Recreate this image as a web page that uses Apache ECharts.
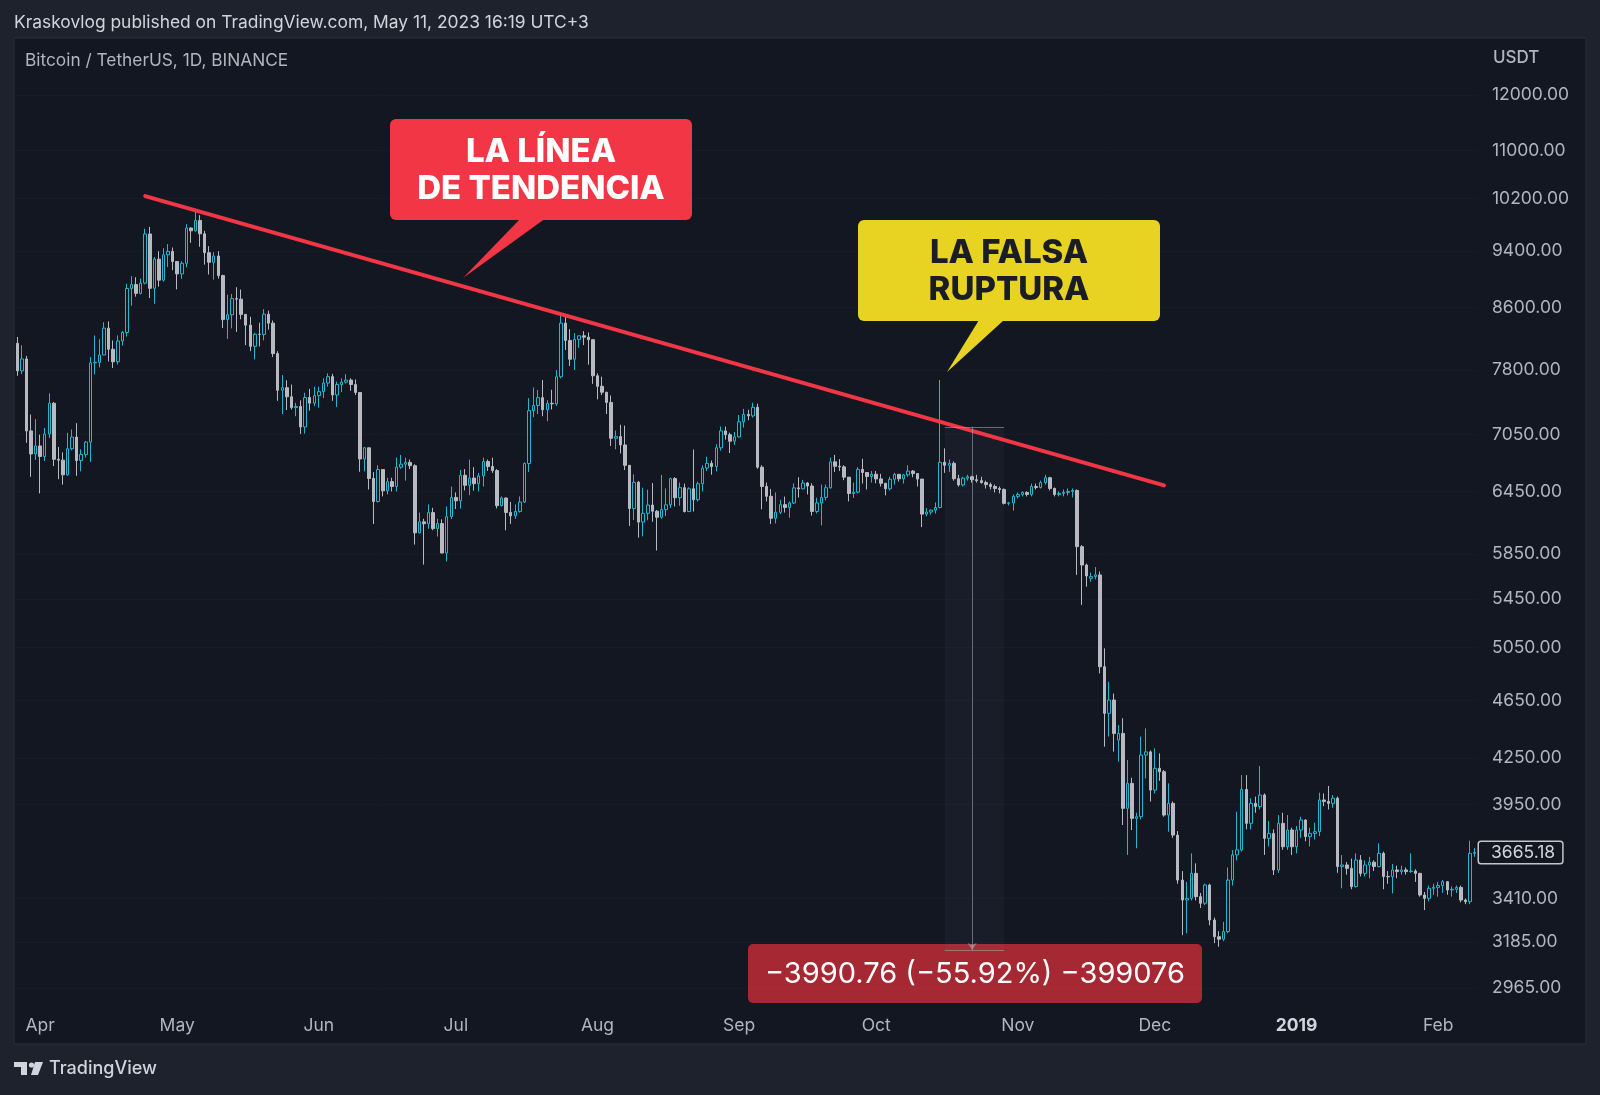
<!DOCTYPE html>
<html>
<head>
<meta charset="utf-8">
<title>BTCUSDT 1D</title>
<script src="https://cdn.jsdelivr.net/npm/echarts@6/dist/echarts.min.js"></script>
<style>
  html, body { margin: 0; padding: 0; background: #1e222d; }
  #chart { width: 1600px; height: 1095px; }
</style>
</head>
<body>
<div id="chart"></div>
<script>
// daily candles, each row [open, high, low, close]
const mar18 = [
  [8134, 8215, 7730, 7790], [7790, 8109, 7750, 7937], [7937, 7975, 6960, 7091],
  [7091, 7275, 6600, 6840], [6840, 7223, 6777, 6926]
]
const apr18 = [
  [6926, 7050, 6430, 6813], [6813, 7125, 6765, 7057], [7057, 7520, 7011, 7405], [7405, 7420, 6711, 6783],
  [6783, 6915, 6575, 6774], [6774, 6857, 6519, 6620], [6620, 7070, 6610, 6896], [6896, 7107, 6880, 7023],
  [7023, 7178, 6610, 6770], [6770, 6890, 6656, 6834], [6834, 6980, 6800, 6968], [6968, 7960, 6755, 7889],
  [7889, 8234, 7748, 7895], [7895, 8186, 7832, 7986], [7986, 8407, 7985, 8329], [8329, 8418, 7905, 8058],
  [8058, 8170, 7826, 7902], [7902, 8236, 7868, 8163], [8163, 8293, 8105, 8273], [8273, 8930, 8220, 8863],
  [8863, 9035, 8626, 8917], [8917, 9020, 8750, 8795], [8795, 8999, 8780, 8937], [8937, 9732, 8921, 9652],
  [9652, 9759, 8730, 8865], [8865, 9310, 8652, 9279], [9279, 9395, 8889, 8979], [8979, 9438, 8959, 9342],
  [9342, 9500, 9166, 9392], [9392, 9450, 9120, 9244]
]
const may18 = [
  [9244, 9246, 8850, 9067], [9067, 9249, 8997, 9219], [9219, 9800, 9160, 9743], [9743, 9750, 9520, 9700],
  [9700, 9990, 9690, 9859], [9859, 9940, 9460, 9654], [9654, 9700, 9200, 9373], [9373, 9470, 9058, 9234],
  [9234, 9380, 8987, 9325], [9325, 9395, 9000, 9043], [9043, 9056, 8330, 8441], [8441, 8777, 8190, 8505],
  [8505, 8787, 8325, 8723], [8723, 8880, 8280, 8716], [8716, 8848, 8445, 8510], [8510, 8510, 8110, 8368],
  [8368, 8478, 8034, 8095], [8095, 8269, 7931, 8250], [8250, 8400, 8093, 8247], [8247, 8580, 8171, 8513],
  [8513, 8560, 8310, 8394], [8394, 8429, 7960, 8004], [8004, 8034, 7433, 7557], [7557, 7738, 7280, 7587],
  [7587, 7676, 7327, 7480], [7480, 7625, 7333, 7355], [7355, 7410, 7256, 7368], [7368, 7438, 7058, 7135],
  [7135, 7527, 7061, 7472], [7472, 7573, 7320, 7406], [7406, 7599, 7372, 7494]
]
const jun18 = [
  [7494, 7600, 7353, 7541], [7541, 7700, 7465, 7643], [7643, 7760, 7600, 7720], [7720, 7754, 7433, 7501],
  [7501, 7660, 7361, 7625], [7625, 7700, 7535, 7654], [7654, 7750, 7636, 7678], [7678, 7700, 7551, 7625],
  [7625, 7686, 7500, 7531], [7531, 7531, 6652, 6786], [6786, 6916, 6655, 6906], [6906, 6907, 6470, 6582],
  [6582, 6648, 6130, 6349], [6349, 6720, 6340, 6675], [6675, 6675, 6400, 6456], [6456, 6590, 6420, 6550],
  [6550, 6590, 6450, 6500], [6500, 6800, 6451, 6700], [6700, 6830, 6682, 6731], [6731, 6800, 6560, 6750],
  [6750, 6780, 6680, 6715], [6715, 6730, 5935, 6045], [6045, 6240, 6040, 6150], [6150, 6180, 5752, 6132],
  [6132, 6320, 6084, 6240], [6240, 6287, 6070, 6085], [6085, 6180, 6010, 6134], [6134, 6174, 5855, 5857],
  [5857, 6300, 5780, 6200], [6200, 6500, 6177, 6390]
]
const jul18 = [
  [6390, 6440, 6275, 6356], [6356, 6670, 6280, 6615], [6615, 6680, 6460, 6512], [6512, 6780, 6412, 6586],
  [6586, 6700, 6458, 6529], [6529, 6640, 6450, 6609], [6609, 6800, 6500, 6759], [6759, 6780, 6660, 6707],
  [6707, 6800, 6640, 6664], [6664, 6679, 6280, 6308], [6308, 6400, 6300, 6384], [6384, 6388, 6070, 6241],
  [6241, 6345, 6130, 6208], [6208, 6320, 6180, 6251], [6251, 6400, 6240, 6344], [6344, 6750, 6336, 6738],
  [6738, 7465, 6650, 7320], [7320, 7590, 7245, 7379], [7379, 7560, 7280, 7470], [7470, 7680, 7256, 7330],
  [7330, 7440, 7200, 7404], [7404, 7563, 7333, 7398], [7398, 7800, 7375, 7718], [7718, 8488, 7700, 8395],
  [8395, 8485, 8050, 8170], [8170, 8315, 7850, 7933], [7933, 8264, 7801, 8183], [8183, 8230, 8075, 8230],
  [8230, 8290, 8110, 8212], [8212, 8273, 7866, 8180], [8180, 8180, 7633, 7730]
]
const aug18 = [
  [7730, 7760, 7450, 7604], [7604, 7720, 7500, 7534], [7534, 7535, 7280, 7415], [7415, 7496, 6926, 7010],
  [7010, 7095, 6890, 7028], [7028, 7160, 6845, 6937], [6937, 7150, 6670, 6719], [6719, 6720, 6111, 6280],
  [6280, 6625, 6168, 6543], [6543, 6557, 6000, 6148], [6148, 6488, 6012, 6233], [6233, 6468, 6165, 6314],
  [6314, 6536, 6151, 6253], [6253, 6265, 5880, 6195], [6195, 6618, 6180, 6269], [6269, 6480, 6205, 6316],
  [6316, 6590, 6285, 6581], [6581, 6596, 6300, 6387], [6387, 6540, 6307, 6488], [6488, 6530, 6241, 6250],
  [6250, 6492, 6245, 6477], [6477, 6888, 6250, 6367], [6367, 6550, 6350, 6528], [6528, 6720, 6450, 6690],
  [6690, 6810, 6660, 6740], [6740, 6770, 6621, 6706], [6706, 6944, 6656, 6906], [6906, 7140, 6875, 7091],
  [7091, 7140, 6995, 7049], [7049, 7072, 6850, 6978], [6978, 7080, 6938, 7025]
]
const sep18 = [
  [7025, 7270, 7018, 7193], [7193, 7340, 7128, 7277], [7277, 7330, 7211, 7260], [7260, 7410, 7240, 7358],
  [7358, 7400, 6682, 6700], [6700, 6720, 6272, 6500], [6500, 6540, 6350, 6401], [6401, 6475, 6130, 6185],
  [6185, 6440, 6135, 6243], [6243, 6367, 6225, 6318], [6318, 6398, 6240, 6290], [6290, 6350, 6190, 6334],
  [6334, 6532, 6324, 6486], [6486, 6595, 6389, 6476], [6476, 6568, 6471, 6536], [6536, 6545, 6420, 6505],
  [6505, 6533, 6210, 6251], [6251, 6387, 6232, 6335], [6335, 6520, 6117, 6390], [6390, 6520, 6360, 6487],
  [6487, 6800, 6478, 6756], [6756, 6830, 6650, 6709], [6709, 6785, 6660, 6703], [6703, 6720, 6565, 6596],
  [6596, 6596, 6350, 6429], [6429, 6540, 6385, 6443], [6443, 6700, 6430, 6676], [6676, 6788, 6531, 6644],
  [6644, 6644, 6470, 6602], [6602, 6660, 6540, 6626]
]
const oct18 = [
  [6626, 6660, 6533, 6578], [6578, 6630, 6500, 6533], [6533, 6536, 6410, 6477], [6477, 6600, 6460, 6574],
  [6574, 6640, 6520, 6625], [6625, 6630, 6550, 6579], [6579, 6630, 6530, 6619], [6619, 6720, 6600, 6659],
  [6659, 6670, 6595, 6633], [6633, 6633, 6500, 6576], [6576, 6576, 6100, 6225], [6225, 6285, 6205, 6245],
  [6245, 6270, 6220, 6264], [6264, 6340, 6230, 6290], [6290, 7680, 6282, 6751], [6751, 6900, 6640, 6720],
  [6720, 6780, 6650, 6740], [6740, 6760, 6560, 6580], [6580, 6620, 6500, 6516], [6516, 6600, 6500, 6585],
  [6585, 6620, 6560, 6600], [6600, 6610, 6540, 6570], [6570, 6620, 6540, 6560], [6560, 6600, 6530, 6540],
  [6540, 6560, 6480, 6520], [6520, 6540, 6470, 6500], [6500, 6520, 6440, 6480], [6480, 6500, 6430, 6470],
  [6470, 6480, 6320, 6331], [6331, 6345, 6310, 6335], [6335, 6420, 6260, 6400]
]
const nov18 = [
  [6400, 6440, 6380, 6420], [6420, 6450, 6400, 6440], [6440, 6450, 6400, 6420], [6420, 6530, 6400, 6500],
  [6500, 6530, 6470, 6490], [6490, 6560, 6480, 6540], [6540, 6620, 6520, 6590], [6590, 6600, 6460, 6480],
  [6480, 6490, 6400, 6420], [6420, 6450, 6400, 6430], [6430, 6470, 6400, 6440], [6440, 6480, 6410, 6450],
  [6450, 6480, 6390, 6460], [6460, 6470, 5660, 5916], [5916, 5930, 5400, 5748], [5748, 5760, 5556, 5650],
  [5630, 5680, 5600, 5645], [5645, 5730, 5620, 5660], [5660, 5690, 4851, 4902], [4902, 5045, 4325, 4557],
  [4557, 4788, 4394, 4653], [4653, 4700, 4292, 4416], [4370, 4474, 4225, 4416], [4416, 4522, 3826, 3927],
  [3927, 4236, 3651, 4084], [4084, 4120, 3796, 3866], [3866, 3900, 3689, 3876], [3876, 4394, 3860, 4269],
  [4269, 4451, 4116, 4290], [4290, 4300, 3969, 4041]
]
const dec18 = [
  [4041, 4314, 4020, 4181], [4181, 4280, 4100, 4159], [4159, 4170, 3876, 3886], [3886, 4084, 3786, 3958],
  [3958, 3970, 3750, 3766], [3766, 3790, 3490, 3510], [3510, 3560, 3220, 3402], [3402, 3500, 3230, 3411],
  [3411, 3660, 3400, 3547], [3547, 3603, 3400, 3420], [3420, 3440, 3360, 3385], [3385, 3490, 3375, 3483],
  [3483, 3490, 3270, 3297], [3297, 3310, 3180, 3212], [3212, 3240, 3162, 3200], [3200, 3288, 3190, 3238],
  [3238, 3580, 3230, 3510], [3510, 3679, 3480, 3651], [3651, 3907, 3620, 3680], [3680, 4137, 3670, 4045],
  [4045, 4137, 3800, 3836], [3836, 3990, 3800, 3958], [3958, 4000, 3900, 3938], [3938, 4196, 3920, 4010],
  [4010, 4020, 3651, 3747], [3747, 3850, 3700, 3776], [3776, 3800, 3538, 3566], [3566, 3886, 3550, 3836],
  [3836, 3900, 3680, 3698], [3698, 3886, 3680, 3796], [3796, 3810, 3650, 3698]
]
const jan19 = [
  [3698, 3820, 3660, 3796], [3796, 3876, 3750, 3856], [3856, 3860, 3730, 3757], [3757, 3810, 3700, 3776],
  [3776, 3840, 3740, 3786], [3786, 4025, 3760, 3979], [3979, 4020, 3940, 3970], [3970, 4067, 3920, 3958],
  [3958, 4010, 3930, 3990], [3990, 4000, 3550, 3585], [3585, 3650, 3465, 3594], [3594, 3610, 3540, 3575],
  [3575, 3630, 3460, 3474], [3474, 3660, 3470, 3622], [3622, 3650, 3530, 3547], [3547, 3620, 3530, 3594],
  [3594, 3640, 3520, 3610], [3610, 3620, 3560, 3585], [3585, 3718, 3580, 3660], [3660, 3670, 3460, 3530],
  [3530, 3560, 3490, 3528], [3528, 3600, 3438, 3566], [3566, 3590, 3520, 3557], [3557, 3590, 3540, 3566],
  [3566, 3580, 3540, 3557], [3557, 3660, 3550, 3560], [3560, 3570, 3500, 3547], [3547, 3550, 3420, 3429],
  [3429, 3445, 3349, 3411], [3411, 3480, 3395, 3465], [3465, 3490, 3430, 3470]
]
const feb19 = [
  [3470, 3500, 3420, 3480], [3480, 3510, 3440, 3501], [3501, 3505, 3430, 3456], [3456, 3475, 3420, 3460],
  [3460, 3480, 3440, 3470], [3470, 3480, 3390, 3402], [3402, 3410, 3380, 3393], [3393, 3733, 3380, 3660],
  [3660, 3690, 3640, 3665.18]
]

// price scale labels (right side)
const priceTicks = [12000, 11000, 10200, 9400, 8600, 7800, 7050, 6450, 5850, 5450, 5050, 4650, 4250, 3950, 3410, 3185, 2965]
const lastPrice = 3665.18
const monthNames = ['Jan', 'Feb', 'Mar', 'Apr', 'May', 'Jun', 'Jul', 'Aug', 'Sep', 'Oct', 'Nov', 'Dec']

// drawings
const trendStart = ['2018-04-24', 10241]
const trendEnd = ['2018-12-03', 6512]
const measureFrom = '2018-10-16'
const measureMid = '2018-10-22'
const measureTo = '2018-10-29'
const measureTop = 7136.5
const measureBottom = 3145.7

const rows = [].concat(mar18, apr18, may18, jun18, jul18, aug18, sep18, oct18, nov18, dec18, jan19, feb19)
const dates = []
const start = Date.UTC(2018, 2, 27)
for (let i = 0; i < rows.length; i++) {
  dates.push(new Date(start + i * 86400000).toISOString().slice(0, 10))
}
// echarts wants [open, close, low, high]
const candles = rows.map(r => [r[0], r[3], r[2], r[1]])

const FONT = 'Inter, "Noto Sans", sans-serif'
const teal = '#1fb8cf'
const grey = '#b9bac1'

const tickLines = priceTicks.map(v => ({
  yAxis: v,
  lineStyle: { color: 'rgba(255,255,255,0.02)', width: 1, type: 'solid' },
  label: {
    show: true, position: 'end', distance: 15,
    formatter: v.toFixed(2), color: '#b2b5be', fontSize: 17.5, fontFamily: FONT
  }
}))

const lastLine = {
  yAxis: lastPrice,
  lineStyle: { color: 'rgba(0,0,0,0)', width: 1, type: 'solid' },
  label: {
    show: true, position: 'end', distance: 2,
    formatter: lastPrice.toFixed(2), color: '#d1d4dc', fontSize: 17.5, fontFamily: FONT,
    padding: [2, 7, 1, 12], borderColor: '#c3c5cc', borderWidth: 1.5, borderRadius: 2,
    backgroundColor: '#131722'
  }
}

const measureStyle = { color: 'rgba(170,172,182,0.55)', width: 1, type: 'solid' }

const chart = echarts.init(document.getElementById('chart'))
chart.setOption({
  backgroundColor: '#1e222d',
  animation: false,
  grid: { left: 15, right: 123, top: 40, bottom: 83 },
  xAxis: {
    type: 'category',
    data: dates,
    boundaryGap: true,
    axisLine: { show: false },
    axisTick: { show: false },
    splitLine: { show: false },
    axisLabel: {
      interval: (index, value) => value.slice(8) === '01',
      formatter: value => {
        const m = +value.slice(5, 7)
        return m === 1 ? '{y|' + value.slice(0, 4) + '}' : monthNames[m - 1]
      },
      color: '#b2b5be',
      fontSize: 17.5,
      fontFamily: FONT,
      margin: 5,
      rich: { y: { fontWeight: 'bold', color: '#d1d4dc', fontSize: 17.5, fontFamily: FONT } }
    }
  },
  yAxis: {
    type: 'log',
    position: 'right',
    min: 2855,
    max: 13077,
    axisLine: { show: false },
    axisTick: { show: false },
    axisLabel: { show: false },
    splitLine: { show: false }
  },
  series: [
    {
      type: 'candlestick',
      data: candles,
      barWidth: 3,
      itemStyle: {
        color: 'transparent',
        color0: grey,
        borderColor: teal,
        borderColor0: grey,
        borderColorDoji: grey,
        borderWidth: 1
      },
      markArea: {
        silent: true,
        itemStyle: { color: 'rgba(120,130,160,0.06)' },
        data: [[{ coord: [measureFrom, measureTop] }, { coord: [measureTo, measureBottom] }]]
      },
      markLine: {
        silent: true,
        symbol: ['none', 'none'],
        precision: 2,
        data: tickLines.concat([
          lastLine,
          [
            { coord: trendStart },
            { coord: trendEnd }
          ].map(p => Object.assign(p, {
            lineStyle: { color: '#f23645', width: 4, type: 'solid', cap: 'round' },
            label: { show: false }
          })),
          [
            { coord: [measureFrom, measureTop], lineStyle: measureStyle, label: { show: false } },
            { coord: [measureTo, measureTop] }
          ],
          [
            { coord: [measureMid, measureTop], lineStyle: measureStyle, label: { show: false } },
            { coord: [measureMid, measureBottom], symbol: 'arrow', symbolSize: [7, 7] }
          ],
          [
            { coord: [measureFrom, measureBottom], lineStyle: measureStyle, label: { show: false } },
            { coord: [measureTo, measureBottom] }
          ]
        ])
      }
    }
  ],
  graphic: [
    {
      type: 'rect', silent: true, z: -10,
      shape: { x: 14, y: 38, width: 1572, height: 1006 },
      style: { fill: '#131722', stroke: '#2a2e39', lineWidth: 1 }
    },
    {
      type: 'text', x: 14, y: 23,
      style: { text: 'Kraskovlog published on TradingView.com, May 11, 2023 16:19 UTC+3', fill: '#d1d4dc', font: '17.4px ' + FONT, verticalAlign: 'middle' }
    },
    {
      type: 'text', x: 25, y: 61,
      style: { text: 'Bitcoin / TetherUS, 1D, BINANCE', fill: '#b2b5be', font: '17.3px ' + FONT, verticalAlign: 'middle' }
    },
    {
      type: 'text', x: 1493, y: 58,
      style: { text: 'USDT', fill: '#b2b5be', font: '500 17px ' + FONT, verticalAlign: 'middle' }
    },
    // footer logo
    {
      type: 'group', x: 14, y: 1062,
      children: [
        { type: 'rect', shape: { x: 0, y: 0, width: 13, height: 5 }, style: { fill: '#d1d4dc' } },
        { type: 'rect', shape: { x: 7, y: 0, width: 6, height: 13 }, style: { fill: '#d1d4dc' } },
        { type: 'circle', shape: { cx: 17.5, cy: 3, r: 2.6 }, style: { fill: '#d1d4dc' } },
        { type: 'polygon', shape: { points: [[21, 0], [29, 0], [24, 13], [17, 13]] }, style: { fill: '#d1d4dc' } }
      ]
    },
    {
      type: 'text', x: 49, y: 1069,
      style: { text: 'TradingView', fill: '#d1d4dc', font: '500 18px ' + FONT, verticalAlign: 'middle' }
    },
    // red callout
    {
      type: 'group', z: 50,
      children: [
        { type: 'polygon', shape: { points: [[521, 218], [546, 218], [463, 278]] }, style: { fill: '#f23645' } },
        { type: 'rect', shape: { x: 390, y: 119, width: 302, height: 101, r: 6 }, style: { fill: '#f23645' } },
        { type: 'text', x: 541, y: 152, style: { text: 'LA LÍNEA', fill: '#ffffff', font: '800 33px ' + FONT, align: 'center', verticalAlign: 'middle' } },
        { type: 'text', x: 541, y: 189, style: { text: 'DE TENDENCIA', fill: '#ffffff', font: '800 33px ' + FONT, align: 'center', verticalAlign: 'middle' } }
      ]
    },
    // yellow callout
    {
      type: 'group', z: 50,
      children: [
        { type: 'polygon', shape: { points: [[979, 320], [1004, 320], [947, 372]] }, style: { fill: '#e8d322' } },
        { type: 'rect', shape: { x: 858, y: 220, width: 302, height: 101, r: 6 }, style: { fill: '#e8d322' } },
        { type: 'text', x: 1009, y: 253, style: { text: 'LA FALSA', fill: '#1b1d26', font: '800 33px ' + FONT, align: 'center', verticalAlign: 'middle' } },
        { type: 'text', x: 1009, y: 290, style: { text: 'RUPTURA', fill: '#1b1d26', font: '800 33px ' + FONT, align: 'center', verticalAlign: 'middle' } }
      ]
    },
    // measure label
    {
      type: 'group', z: 50,
      children: [
        { type: 'rect', shape: { x: 748, y: 944, width: 454, height: 59, r: 5 }, style: { fill: '#a62833' } },
        { type: 'text', x: 975, y: 974, style: { text: '\u22123990.76 (\u221255.92%) \u2212399076', fill: '#ffffff', font: '29px ' + FONT, align: 'center', verticalAlign: 'middle' } }
      ]
    }
  ]
})
</script>
</body>
</html>
